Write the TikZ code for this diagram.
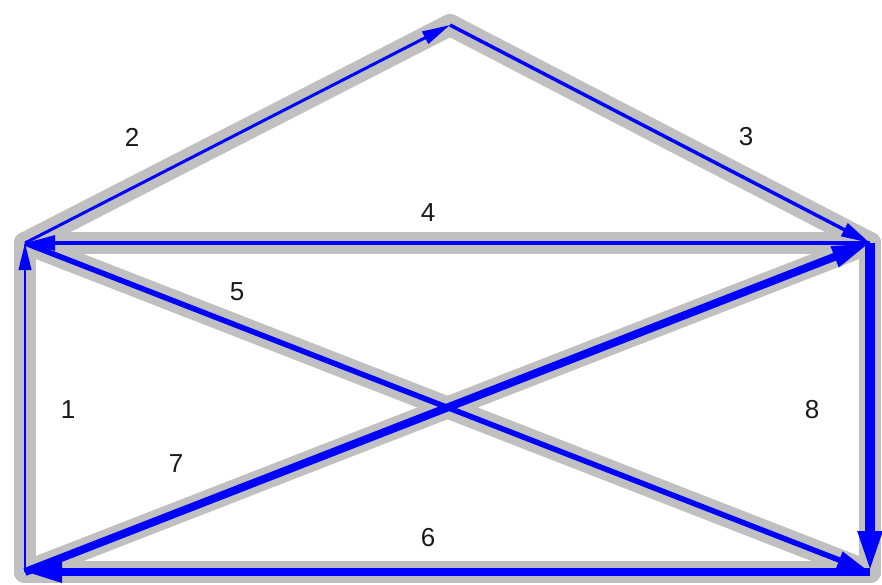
\documentclass[tikz,border=0pt]{standalone}
\usepackage{fontspec}
\setmainfont{Liberation Sans}
\usepackage{xcolor}
\usepackage{tikz}
\usetikzlibrary{arrows.meta, positioning, calc}
\definecolor{housegray}{HTML}{C0C0C0}
\definecolor{strokeblue}{HTML}{0000FF}

\tikzset{
    houseline/.style={housegray, line width=22pt, line cap=round},
    stroke/.style={strokeblue, line width=#1, -{Triangle[length=22pt 2, width=9pt 1.4]}},
    steplabel/.style={font=\fontsize{26}{30}\selectfont, text=black!90, inner sep=0pt}
}

\begin{document}
\begin{tikzpicture}[x=1pt, y=-1pt]
    \useasboundingbox (0,0) rectangle (882,584);

    % ── Corners of the house ──────────────────────────────────────────
    \coordinate (bl) at (25,572);
    \coordinate (ml) at (25,243);
    \coordinate (top) at (450,25);
    \coordinate (mr) at (870,243);
    \coordinate (br) at (870,572);

    % ── Gray outline ──────────────────────────────────────────────────
    \foreach \a/\b in {bl/ml, ml/top, top/mr, mr/ml, ml/br, br/bl, bl/mr, mr/br}{
        \draw[houseline] (\a) -- (\b);
    }

    % ── Blue strokes, one per step ────────────────────────────────────
    \draw[stroke=2.5pt] (bl) -- (ml);
    \draw[stroke=3pt] (ml) -- (top);
    \draw[stroke=3.5pt] (top) -- (mr);
    \draw[stroke=4pt] (mr) -- (ml);
    \draw[stroke=5.5pt] (ml) -- (br);
    \draw[stroke=7.5pt] (br) -- (bl);
    \draw[stroke=8pt] (bl) -- (mr);
    \draw[stroke=9.5pt] (mr) -- (br);

    % Step numbers
    \node[steplabel] (lab1) at (68,410) {1};
    \node[steplabel] (lab2) at (132,137) {2};
    \node[steplabel] (lab3) at (746,137) {3};
    \node[steplabel] (lab4) at (428,213) {4};
    \node[steplabel] (lab5) at (237,292) {5};
    \node[steplabel] (lab6) at (428,538) {6};
    \node[steplabel] (lab7) at (176,464) {7};
    \node[steplabel] (lab8) at (812,410) {8};
\end{tikzpicture}
\end{document}
